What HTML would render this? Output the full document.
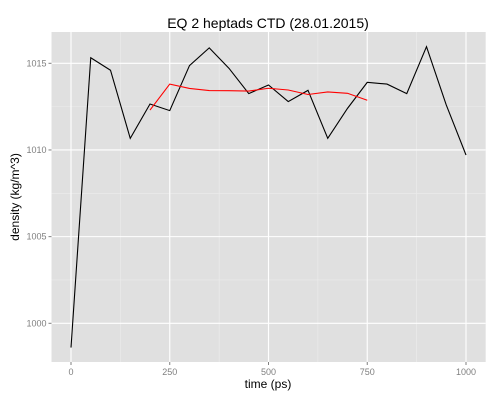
<!DOCTYPE html>
<html><head><meta charset="utf-8"><style>
body{margin:0;background:#fff;}
svg{font-family:"Liberation Sans",sans-serif;}
</style></head><body>
<svg id="chart" width="500" height="400"></svg>
<script>
const times=[0,50,100,150,200,250,300,350,400,450,500,550,600,650,700,750,800,850,900,950,1000];
const density=[998.6,1015.32,1014.6,1010.67,1012.65,1012.27,1014.87,1015.89,1014.71,1013.25,1013.75,1012.79,1013.44,1010.67,1012.4,1013.9,1013.8,1013.25,1015.96,1012.6,1009.71];
const avgTimes=[200,250,300,350,400,450,500,550,600,650,700,750];
const avgDensity=[1012.3,1013.8,1013.55,1013.43,1013.42,1013.4,1013.56,1013.46,1013.2,1013.35,1013.27,1012.87];
const xTicks=[0,250,500,750,1000];
const yTicks=[1000,1005,1010,1015];
const xMinor=[125,375,625,875];
const yMinor=[1002.5,1007.5,1012.5];

const NS="http://www.w3.org/2000/svg";
const svg=document.getElementById('chart');
const L=51.5,R=485.7,T=32,B=362;
const sx=v=>71+(v-0)*395/1000;
const sy=v=>323.3-(v-1000)*260/15;
function mk(tag,attrs,parent){const e=document.createElementNS(NS,tag);for(const k in attrs)e.setAttribute(k,attrs[k]);(parent||svg).appendChild(e);return e;}

const title=mk('text',{x:268,y:28,'text-anchor':'middle','font-size':14,fill:'#000'});
title.textContent='EQ 2 heptads CTD (28.01.2015)';



const panel=mk('rect',{x:L,y:T,width:R-L,height:B-T,fill:'#e0e0e0'});



xMinor.forEach(v=>{const l=mk('line',{x1:sx(v),x2:sx(v),y1:T,y2:B,stroke:'#ececec','stroke-width':0.6});

});
yMinor.forEach(v=>{const l=mk('line',{x1:L,x2:R,y1:sy(v),y2:sy(v),stroke:'#ececec','stroke-width':0.6});

});
xTicks.forEach(v=>{const l=mk('line',{x1:sx(v),x2:sx(v),y1:T,y2:B,stroke:'#fff','stroke-width':1.1});


mk('line',{x1:sx(v),x2:sx(v),y1:B,y2:B+3,stroke:'#7f7f7f'});
const t=mk('text',{x:sx(v),y:B+13,'text-anchor':'middle','font-size':9,fill:'#7f7f7f'});t.textContent=v;

});
yTicks.forEach(v=>{const l=mk('line',{x1:L,x2:R,y1:sy(v),y2:sy(v),stroke:'#fff','stroke-width':1.1});


mk('line',{x1:L-3,x2:L,y1:sy(v),y2:sy(v),stroke:'#7f7f7f'});
const t=mk('text',{x:L-5,y:sy(v)+3,'text-anchor':'end','font-size':9,fill:'#7f7f7f'});t.textContent=v;

});

const p1=mk('polyline',{points:times.map((t,i)=>sx(t)+','+sy(density[i])).join(' '),fill:'none',stroke:'#000','stroke-width':1.1});


const p2=mk('polyline',{points:avgTimes.map((t,i)=>sx(t)+','+sy(avgDensity[i])).join(' '),fill:'none',stroke:'#f00','stroke-width':1.1});



const xl=mk('text',{x:268,y:388,'text-anchor':'middle','font-size':12,fill:'#000'});xl.textContent='time (ps)';


const yl=mk('text',{x:0,y:0,'text-anchor':'middle','font-size':12,fill:'#000',transform:'translate(19,197) rotate(-90)'});yl.textContent='density (kg/m^3)';


</script>
</body></html>
